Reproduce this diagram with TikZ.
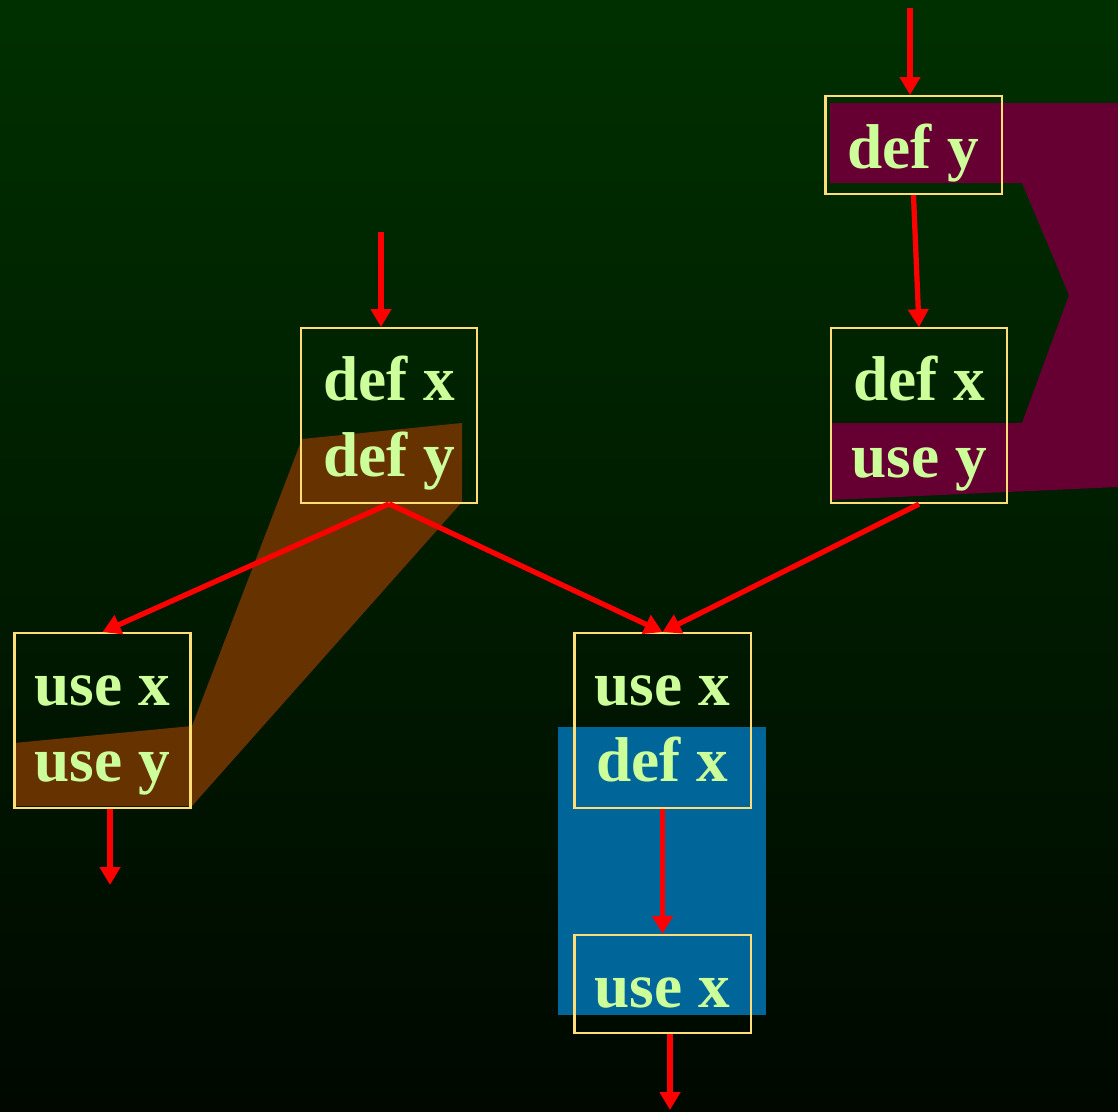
\documentclass[tikz,border=0pt]{standalone}
\usepackage{fontspec}
\setmainfont{Liberation Serif}[BoldFont={Liberation Serif Bold}]
\usetikzlibrary{arrows.meta,positioning}
\definecolor{bgtop}{HTML}{003000}
\definecolor{bgbot}{HTML}{000800}
\definecolor{maroonfill}{HTML}{660033}
\definecolor{brownfill}{HTML}{663300}
\definecolor{bluefill}{HTML}{006699}
\definecolor{boxline}{HTML}{FFDD77}
\definecolor{boxtext}{HTML}{CCFF99}
\tikzset{
block/.style={rectangle,draw=boxline,line width=0.6pt,text=boxtext,
  font=\fontsize{18}{21.8}\selectfont\bfseries,align=flush center,
  text width=1.76cm,inner xsep=0pt,inner ysep=0pt,text height=0.72cm},
one/.style={block,text depth=0.26cm},
two/.style={block,text depth=1.026cm},
flow/.style={->,red,line width=1.5pt}
}

\begin{document}
\begin{tikzpicture}[
x=0.01cm,y=-0.01cm,
>={Triangle[width=0.2cm,length=0.18cm]}]

% background
\shade[top color=bgtop,bottom color=bgbot] (0,0) rectangle (1118,1111);
\useasboundingbox (0,0) rectangle (1118,1111);

% live ranges
\fill[maroonfill] (830,103) -- (1118,103) -- (1118,487) -- (830,500) -- (830,423)
  -- (1022,423) -- (1069,295) -- (1022,183) -- (830,183) -- cycle;
\fill[brownfill] (302,439) -- (462,423) -- (462,502) -- (192,806) -- (14,806)
  -- (14,743) -- (192,726) -- cycle;
\fill[bluefill] (558,727) rectangle (766,1015);

% blocks
\node[one,anchor=north] (b1) at (913.5,95) {def y};
\node[two,below=1.32cm of b1,xshift=0.055cm] (b2) {def x\\use y};
\node[two,anchor=north] (b3) at (389,327) {def x\\def y};
\node[two,anchor=north] (b4) at (102.5,632) {use x\\use y};
\node[two,anchor=north] (b5) at (662.5,632) {use x\\def x};
\node[one,below=1.25cm of b5] (b6) {use x};

\coordinate (in1) at (910,8);
\coordinate (in3) at (381,232);
\coordinate (out4) at (110,885);
\coordinate (out6) at (670,1110);

% edges
\draw[flow] (in1) -- (in1 |- b1.north);
\draw[flow] (b1.south) -- (b2.north);
\draw[flow] (in3) -- (in3 |- b3.north);
\draw[flow] (b3.south) -- (b4.north);
\draw[flow] (b3.south) -- (b5.north);
\draw[flow] (b2.south) -- (b5.north);
\draw[flow] (out4 |- b4.south) -- (out4);
\draw[flow] (b5.south) -- (b6.north);
\draw[flow] (out6 |- b6.south) -- (out6);
\end{tikzpicture}
\end{document}
